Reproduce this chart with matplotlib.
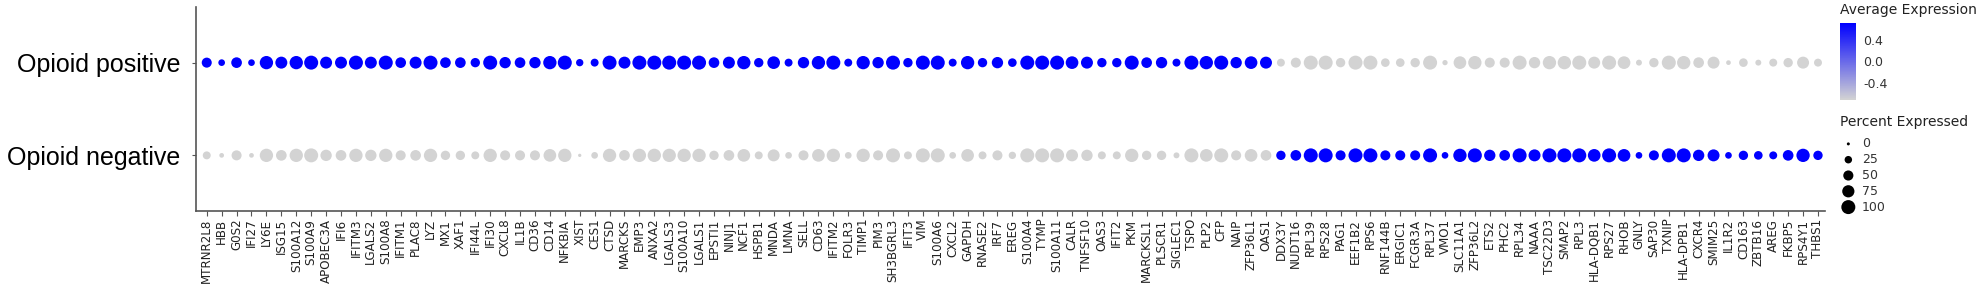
import numpy as np
import matplotlib
matplotlib.use("Agg")
import matplotlib.pyplot as plt
from matplotlib.colors import LinearSegmentedColormap, Normalize

genes = ["MTRNR2L8","HBB","G0S2","IFI27","LY6E","ISG15","S100A12","S100A9","APOBEC3A","IFI6",
         "IFITM3","LGALS2","S100A8","IFITM1","PLAC8","LYZ","MX1","XAF1","IFI44L","IFI30",
         "CXCL8","IL1B","CD36","CD14","NFKBIA","XIST","CES1","CTSD","MARCKS","EMP3",
         "ANXA2","LGALS3","S100A10","LGALS1","EPSTI1","NINJ1","NCF1","HSPB1","MNDA","LMNA",
         "SELL","CD63","IFITM2","FOLR3","TIMP1","PIM3","SH3BGRL3","IFIT3","VIM","S100A6",
         "CXCL2","GAPDH","RNASE2","IRF7","EREG","S100A4","TYMP","S100A11","CALR","TNFSF10",
         "OAS3","IFIT2","PKM","MARCKSL1","PLSCR1","SIGLEC1","TSPO","PLP2","CFP","NAIP",
         "ZFP36L1","OAS1","DDX3Y","NUDT16","RPL39","RPS28","PAG1","EEF1B2","RPS6","RNF144B",
         "ERGIC1","FCGR3A","RPL37","VMO1","SLC11A1","ZFP36L2","ETS2","PHC2","RPL34","NAAA",
         "TSC22D3","SMAP2","RPL3","HLA-DQB1","RPS27","RHOB","GNLY","SAP30","TXNIP","HLA-DPB1",
         "CXCR4","SMIM25","IL1R2","CD163","ZBTB16","AREG","FKBP5","RPS4Y1","THBS1"]

groups = ["Opioid negative", "Opioid positive"]

pct_pos = [49,19,56,19,90,72,90,100,72,72,100,72,100,56,72,100,56,56,42,100,
           64,56,64,90,100,24,29,100,72,100,100,100,100,100,56,72,90,42,81,29,
           64,90,100,29,90,64,100,42,100,100,29,90,42,64,35,100,100,100,81,72,
           42,42,100,56,64,29,100,90,100,64,81,72,29,49,100,100,42,100,100,35,
           35,42,100,10,81,90,49,49,100,64,90,90,100,72,100,81,14,42,100,90,
           56,72,7,35,14,29,42,72,29]

pct_neg = [29,7,49,7,90,56,90,100,64,56,90,64,90,49,56,90,42,42,29,90,
           49,49,49,81,90,1,19,90,56,90,90,90,90,90,42,56,81,29,72,19,
           49,81,90,19,90,49,100,29,100,100,19,81,29,49,24,100,100,100,72,64,
           29,29,90,42,42,14,100,81,100,49,81,56,42,56,100,100,49,100,100,49,
           49,49,100,19,90,100,64,56,100,72,100,100,100,81,100,81,19,49,100,100,
           64,72,19,42,35,29,56,90,42]

avg_pos = [0.707] * 72 + [-0.707] * 37
avg_neg = [-0.707] * 72 + [0.707] * 37

cbar_ticks = [-0.4, 0.0, 0.4]
size_legend_vals = [0, 25, 50, 75, 100]

W, H = 1983, 288
fig = plt.figure(figsize=(W / 100, H / 100), dpi=100)

def px_axes(x0, y0, x1, y1):
    return fig.add_axes([x0 / W, 1 - y1 / H, (x1 - x0) / W, (y1 - y0) / H])

def size_of(p):
    p = np.asarray(p, dtype=float)
    d_px = np.sqrt(9 + 1.87 * p)
    return (0.72 * d_px) ** 2

cmap = LinearSegmentedColormap.from_list("ge", ["#D3D3D3", "#0000FF"])
norm = Normalize(vmin=-0.7071, vmax=0.7071)

ax = px_axes(196, 7, 1825, 211)
x = np.arange(len(genes))
ax.scatter(x, np.full(len(genes), 1), s=size_of(pct_pos), c=avg_pos, cmap=cmap, norm=norm, linewidths=0)
ax.scatter(x, np.full(len(genes), 0), s=size_of(pct_neg), c=avg_neg, cmap=cmap, norm=norm, linewidths=0)
ax.set_xlim(-0.72, len(genes) - 1 + 0.47)
ax.set_ylim(-0.6, 1.6)
ax.set_yticks([0, 1])
ax.set_yticklabels(groups, fontsize=18, family=["Liberation Sans", "DejaVu Sans"], color="black")
ax.set_xticks(x)
ax.set_xticklabels(genes, rotation=90, fontsize=8.6, color="#222222")
for s in ["top", "right"]:
    ax.spines[s].set_visible(False)
for s in ["left", "bottom"]:
    ax.spines[s].set_color("#555555")
    ax.spines[s].set_linewidth(1.2)
ax.tick_params(axis="x", length=3.5, width=0.8, color="#555555", pad=2)
ax.tick_params(axis="y", length=3, width=0.8, color="#555555", pad=8)

# Colorbar
fig.text(1840 / W, 1 - 3 / H, "Average Expression", fontsize=10, va="top", ha="left", color="#222222")
cax = px_axes(1840, 23, 1856, 100)
cb = fig.colorbar(matplotlib.cm.ScalarMappable(norm=norm, cmap=cmap), cax=cax)
cb.set_ticks(cbar_ticks)
cb.set_ticklabels(["-0.4", "0.0", "0.4"])
cb.outline.set_visible(False)
cax.tick_params(length=0, labelsize=9, colors="#333333", pad=5)

# Size legend
fig.text(1840 / W, 1 - 115 / H, "Percent Expressed", fontsize=10, va="top", ha="left", color="#222222")
lax = px_axes(1838, 136, 1900, 215)
ys = np.arange(len(size_legend_vals))[::-1]
lax.scatter(np.zeros(len(size_legend_vals)), ys, s=size_of(size_legend_vals), c="black", linewidths=0)
for yy, v in zip(ys, size_legend_vals):
    lax.text(1.3, yy, str(v), va="center", ha="left", fontsize=9, color="#333333")
lax.set_xlim(-1, 5)
lax.set_ylim(-0.5, 4.5)
lax.axis("off")

fig.savefig("out.png", dpi=100)
